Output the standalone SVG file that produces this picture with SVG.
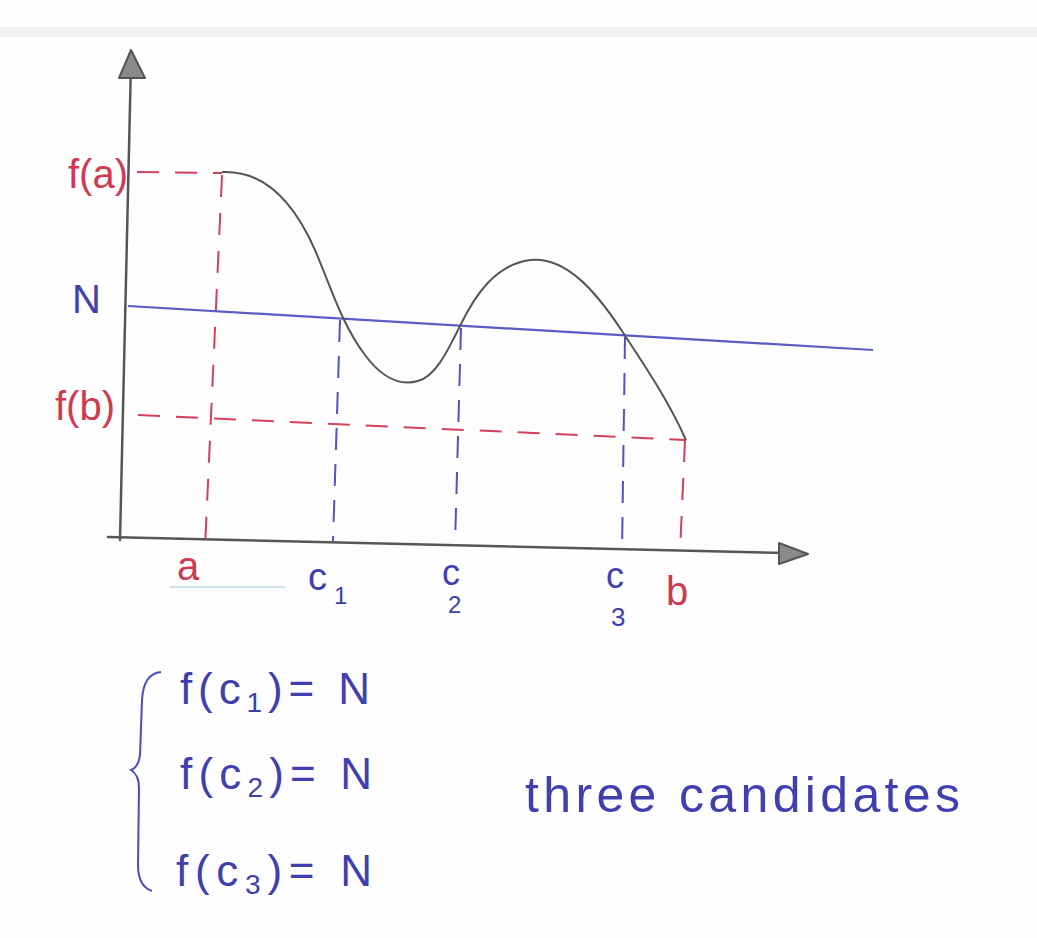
<svg xmlns="http://www.w3.org/2000/svg" width="1037" height="938" viewBox="0 0 1037 938">
  <style>
    .axis { stroke: #555; stroke-width: 2.5; fill: none; stroke-linecap: round; }
    .head { fill: #8a8a8a; stroke: #555; stroke-width: 2; stroke-linejoin: round; }
    .curve { stroke: #555; stroke-width: 2; fill: none; }
    .nline { stroke: #5a5cc4; stroke-width: 2.2; fill: none; }
    .rdash { stroke: #d2405a; stroke-width: 2; fill: none; stroke-dasharray: 22 16; }
    .bdash { stroke: #4f52c8; stroke-width: 2; fill: none; stroke-dasharray: 22 14; }
    .red { fill: #cf3a52; font-family: "Liberation Sans", Arial, sans-serif; }
    .blue { fill: #3f3fb0; font-family: "Liberation Sans", Arial, sans-serif; }
  </style>
  <rect x="0" y="0" width="1037" height="938" fill="#fdfdfd"/>
  <rect x="0" y="27" width="1037" height="10" fill="#f1f1f1"/>
  <line x1="170" y1="587" x2="285" y2="587" stroke="#cfe2ec" stroke-width="2"/>

  <g id="axes">
    <line class="axis" x1="131" y1="62" x2="120" y2="540"/>
    <polygon class="head" points="131,50 119,78 145,78"/>
    <line class="axis" x1="108" y1="537" x2="785" y2="553"/>
    <polygon class="head" points="808,554 779,543 779,564"/>
  </g>

  <g id="guides">
    <line class="rdash" x1="137" y1="172" x2="222" y2="173"/>
    <line class="rdash" x1="222" y1="175" x2="205" y2="548"/>
    <line class="rdash" x1="138" y1="415" x2="685" y2="440"/>
    <line class="rdash" x1="685" y1="440" x2="680" y2="552"/>
    <line class="bdash" x1="340" y1="320" x2="333" y2="541"/>
    <line class="bdash" x1="461" y1="328" x2="455" y2="545"/>
    <line class="bdash" x1="625" y1="337" x2="622" y2="552"/>
  </g>

  <g id="level-N">
    <line class="nline" x1="128" y1="306" x2="873" y2="350"/>
  </g>

  <g id="curve">
    <path class="curve" d="M222,172 C262,170 292,198 315,250 C330,285 342,325 365,355 C382,378 400,386 418,381 C436,376 448,350 460,326 C475,295 495,265 530,260 C565,256 595,290 622,331 C645,366 668,400 686,440"/>
  </g>

  <g id="labels-y">
    <text class="red" x="68" y="188" font-size="40">f(a)</text>
    <text class="blue" x="72" y="313" font-size="40">N</text>
    <text class="red" x="55" y="420" font-size="40">f(b)</text>
  </g>

  <g id="labels-x">
    <text class="red" x="177" y="580" font-size="40">a</text>
    <text class="blue" x="308" y="590" font-size="38">c</text>
    <text class="blue" x="334" y="604" font-size="24">1</text>
    <text class="blue" x="442" y="585" font-size="36">c</text>
    <text class="blue" x="448" y="613" font-size="24">2</text>
    <text class="blue" x="606" y="588" font-size="36">c</text>
    <text class="blue" x="611" y="626" font-size="26">3</text>
    <text class="red" x="666" y="605" font-size="40">b</text>
  </g>

  <g id="equations">
    <path d="M161,672 C150,673 143,682 142,700 L140,755 C139,764 136,768 131,770 C136,773 139,778 139,788 L138,865 C138,880 143,888 152,891" stroke="#4a4cbf" stroke-width="2" fill="none"/>
    <text class="blue" x="180" y="704" font-size="44" textLength="190" lengthAdjust="spacing">f(c<tspan font-size="28" dy="8">1</tspan><tspan dy="-8">)= N</tspan></text>
    <text class="blue" x="180" y="789" font-size="44" textLength="192" lengthAdjust="spacing">f(c<tspan font-size="28" dy="8">2</tspan><tspan dy="-8">)= N</tspan></text>
    <text class="blue" x="176" y="886" font-size="44" textLength="196" lengthAdjust="spacing">f(c<tspan font-size="28" dy="8">3</tspan><tspan dy="-8">)= N</tspan></text>
  </g>

  <g id="note">
    <text class="blue" x="525" y="812" font-size="50" textLength="435" lengthAdjust="spacing">three candidates</text>
  </g>
</svg>
